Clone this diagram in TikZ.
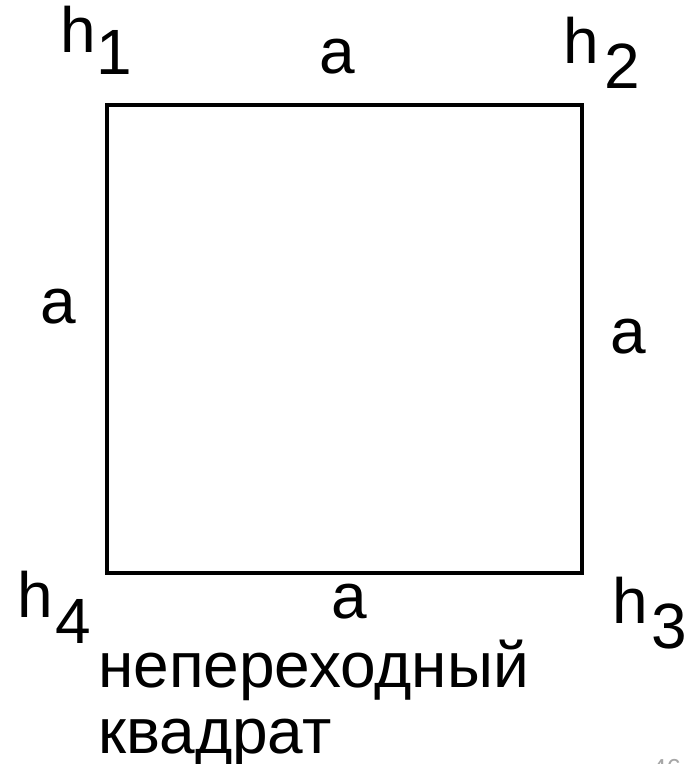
\documentclass[tikz,border=0pt]{standalone}
\usepackage{fontspec}
\setmainfont{Liberation Sans}
\usetikzlibrary{positioning}

\begin{document}
\begin{tikzpicture}[x=1pt, y=-1pt,
    lbl/.style={font=\fontsize{64}{66}\selectfont, inner sep=0pt, anchor=base west},
    side/.style={draw, line width=3.5pt, inner sep=0pt}]
  \useasboundingbox (0,0) rectangle (696,764);

  \node[side, minimum width=475pt, minimum height=468pt] (sq) at (344.5,339) {};

  % vertices
  \node[lbl] (h1) at (60,52)  {h\kern1pt\raisebox{-22pt}{1}};
  \node[lbl] (h2) at (563,63) {h\kern6pt\raisebox{-25pt}{2}};
  \node[lbl] (h3) at (612,623) {h\kern4pt\raisebox{-25pt}{3}};
  \node[lbl] (h4) at (17,617) {h\kern3pt\raisebox{-26pt}{4}};

  % sides
  \node[lbl] (top)    at (319,73)  {a};
  \node[lbl] (left)   at (40,323)  {a};
  \node[lbl] (right)  at (610,353) {a};
  \node[lbl] (bottom) at (331,618) {a};

  \node[lbl] (cap1) at (98,687) {непереходный};
  \node[lbl] (cap2) at (98,753) {квадрат};

  \node[font=\fontsize{26}{28}\selectfont, text=gray!70, inner sep=0pt, anchor=north west] (page) at (652,759) {46};
\end{tikzpicture}
\end{document}
